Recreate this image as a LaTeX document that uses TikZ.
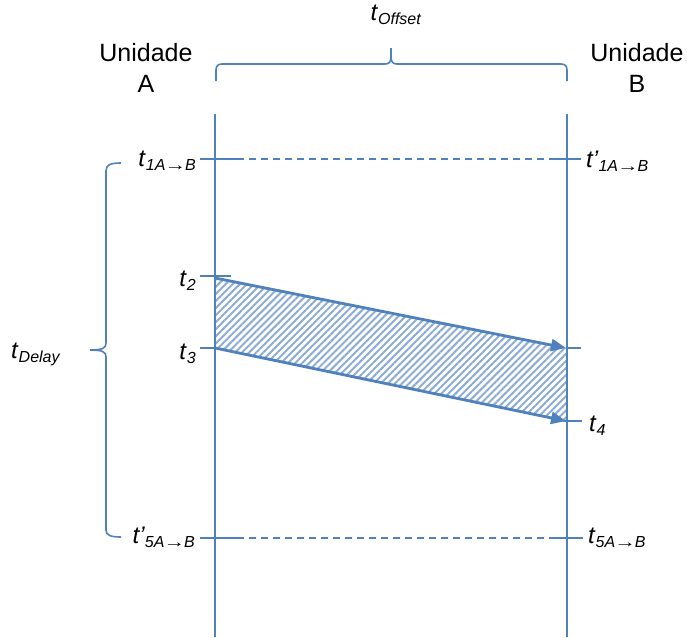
\documentclass[tikz,border=0pt]{standalone}
\usepackage{fontspec}
\usepackage{graphicx}
\setmainfont{Liberation Sans}
\usetikzlibrary{arrows.meta,patterns.meta}
\definecolor{lblue}{RGB}{79,129,189}
\definecolor{hblue}{RGB}{140,172,215}
\newcommand{\tlab}[2]{\textit{t#1}\raisebox{-4pt}{\fontsize{16}{16}\selectfont\textit{#2}}}
\newcommand{\ar}{\kern-1pt\scalebox{1.35}[1]{→}\kern-1pt}
\begin{document}
\begin{tikzpicture}[x=1pt,y=-1pt,
  vline/.style={draw=lblue,line width=1.6pt},
  dline/.style={draw=lblue,line width=1.3pt,dash pattern=on 7pt off 5pt},
  tick/.style={draw=lblue,line width=1.6pt},
  msg/.style={draw=lblue,line width=2.8pt,-{Triangle[length=15pt,width=12pt]}},
  bracepath/.style={draw=lblue,line width=1.6pt},
  lbl/.style={inner sep=0pt,font=\fontsize{24}{28}\selectfont},
  unit/.style={inner sep=0pt,align=center,font=\fontsize{25}{31}\selectfont}]
\useasboundingbox (0,0) rectangle (687,637);
% coordinates
\coordinate (Atop) at (215,114); \coordinate (Abot) at (215,637);
\coordinate (Btop) at (567,114); \coordinate (Bbot) at (567,637);
\coordinate (a2) at (215,278); \coordinate (a3) at (215,348);
\coordinate (b3) at (566,348); \coordinate (b4) at (566,421);
% hatch
\fill[pattern={Lines[angle=45,distance=5pt,line width=2pt]},pattern color=hblue]
  (a2) -- (b3) -- (b4) -- (a3) -- cycle;
% vertical lines
\draw[vline] (Atop) -- (Abot);
\draw[vline] (Btop) -- (Bbot);
% dashed lines
\coordinate (d1l) at (200,159); \coordinate (d1r) at (581,159);
\coordinate (d5l) at (200,538); \coordinate (d5r) at (583,538);
\draw[tick] (d1l) -- (237,159);
\draw[dline] (237,159) -- (556,159);
\draw[tick] (556,159) -- (d1r);
\draw[tick] (d5l) -- (237,538);
\draw[dline] (237,538) -- (556,538);
\draw[tick] (556,538) -- (d5r);
% ticks
\coordinate (t2l) at (200,276); \coordinate (t2r) at (231,276);
\coordinate (t3l) at (200,348);
\coordinate (r3r) at (581,348); \coordinate (t4l) at (563,421); \coordinate (t4r) at (582,421);
\draw[tick] (t2l) -- (t2r);
\draw[tick] (t3l) -- (a3);
\draw[tick] (b3) -- (r3r);
\draw[tick] (t4l) -- (t4r);
% messages
\draw[msg] (a2) -- (b3);
\draw[msg] (a3) -- (b4);
% top brace
\draw[bracepath] (216,81) -- (216,70) .. controls (216,66) and (218,64) .. (222,64) -- (385,64)
  .. controls (389,64) and (391,62) .. (391,57) -- (391,48);
\draw[bracepath] (391,57) .. controls (391,62) and (393,64) .. (397,64) -- (561,64)
  .. controls (565,64) and (567,66) .. (567,70) -- (567,81);
% left brace
\draw[bracepath] (121,163) .. controls (110,163) and (106,165) .. (106,171) -- (106,343)
  .. controls (106,348) and (103,350) .. (90,350);
\draw[bracepath] (90,350) .. controls (103,350) and (106,352) .. (106,357) -- (106,530)
  .. controls (106,535) and (110,537) .. (121,537);
% labels
\node[unit] (uA) at (146,68) {Unidade\\A};
\node[unit] (uB) at (637,68) {Unidade\\B};
\node[lbl,anchor=base] (toff) at (396,20) {\tlab{}{Offset}};
\node[lbl,anchor=base west] (tdel) at (11,358) {\tlab{}{Delay}};
\node[lbl,anchor=base east] (t1) at (196,166) {\tlab{}{1A\ar B}};
\node[lbl,anchor=base west] (t1p) at (586,167) {\tlab{'}{1A\ar B}};
\node[lbl,anchor=base east] (t2) at (196,286) {\tlab{}{2}};
\node[lbl,anchor=base east] (t3) at (196,359) {\tlab{}{3}};
\node[lbl,anchor=base west] (t4) at (589,431) {\tlab{}{4}};
\node[lbl,anchor=base east] (t5p) at (195,543) {\tlab{'}{5A\ar B}};
\node[lbl,anchor=base west] (t5) at (588,543) {\tlab{}{5A\ar B}};
\end{tikzpicture}
\end{document}
